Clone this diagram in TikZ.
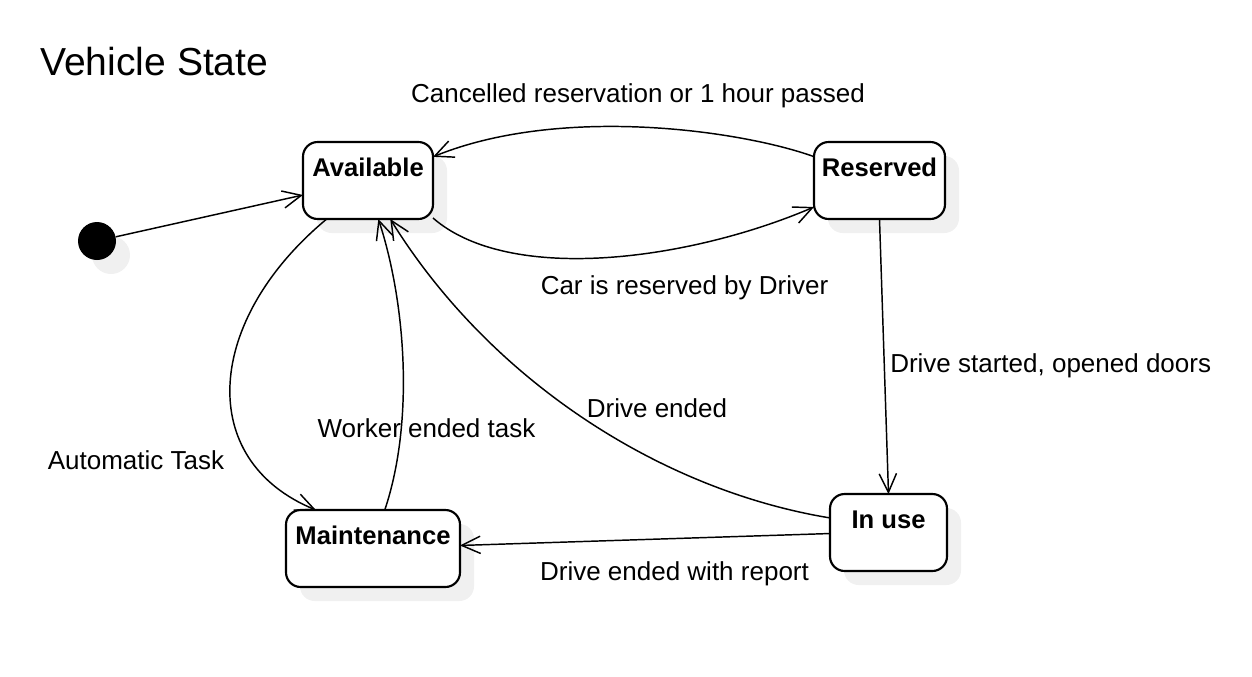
\documentclass[tikz,border=0pt]{standalone}
\usepackage{fontspec}
\setmainfont{Liberation Sans}
\usetikzlibrary{arrows.meta,shadows}
\begin{document}
\begin{tikzpicture}[x=0.75pt,y=-0.75pt,
  shade/.style={general shadow={fill=black!6, draw=none, shadow xshift=10.5pt, shadow yshift=-10.5pt}},
  state/.style={draw, line width=1.6pt, rounded corners=11pt, fill=white, inner sep=0pt, outer sep=0pt,
    font=\fontsize{19.2}{22}\selectfont\bfseries, shade,
    text height=25.5pt, text depth=32.25pt, align=center},
  conn/.style={line width=1.1pt, -{Straight Barb[length=14pt,width=13pt,line width=1.1pt]}},
  lbl/.style={inner sep=0pt, font=\fontsize{19.5}{23}\selectfont}
]
\useasboundingbox (0,0) rectangle (1252,676);

\node[anchor=base west, inner sep=0pt, font=\fontsize{29.3}{34}\selectfont] (title) at (40,75) {Vehicle State};

\node[circle, fill=black, minimum size=28.5pt, inner sep=0pt, shade] (init) at (97,241) {};
\node[state, minimum width=97.5pt] (av) at (368,180.5) {Available};
\node[state, minimum width=98.25pt] (rs) at (879.5,180.5) {Reserved};
\node[state, minimum width=130.5pt] (mt) at (373,548.5) {Maintenance};
\node[state, minimum width=87.75pt] (iu) at (888.5,532.5) {In use};

\draw[conn] (init) -- (av);
\draw[conn] (av.-30) .. controls (510,285) and (690,260) .. (rs.202);
\draw[conn] (rs.160) .. controls (740,130) and (560,105) .. (av.20);
\draw[conn] (rs.south) -- (iu.north);
\draw[conn] (iu.166) .. controls (660,490) and (490,380) .. (av.-60);
\draw[conn] (mt.73) .. controls (415,420) and (405,300) .. (av.-75);
\draw[conn] (av.-137) .. controls (205,320) and (195,460) .. (mt.146);
\draw[conn] (iu.181) -- (mt.2);

\node[lbl, anchor=base] (l1) at (638,102) {Cancelled reservation or 1 hour passed};
\node[lbl, anchor=base] (l2) at (684.5,294) {Car is reserved by Driver};
\node[lbl, anchor=base west] (l3) at (890,372) {Drive started, opened doors};
\node[lbl, anchor=base] (l4) at (657,417) {Drive ended};
\node[lbl, anchor=base] (l5) at (426.5,437) {Worker ended task};
\node[lbl, anchor=base] (l6) at (136,469) {Automatic Task};
\node[lbl, anchor=base] (l7) at (674.5,580) {Drive ended with report};
\end{tikzpicture}
\end{document}
